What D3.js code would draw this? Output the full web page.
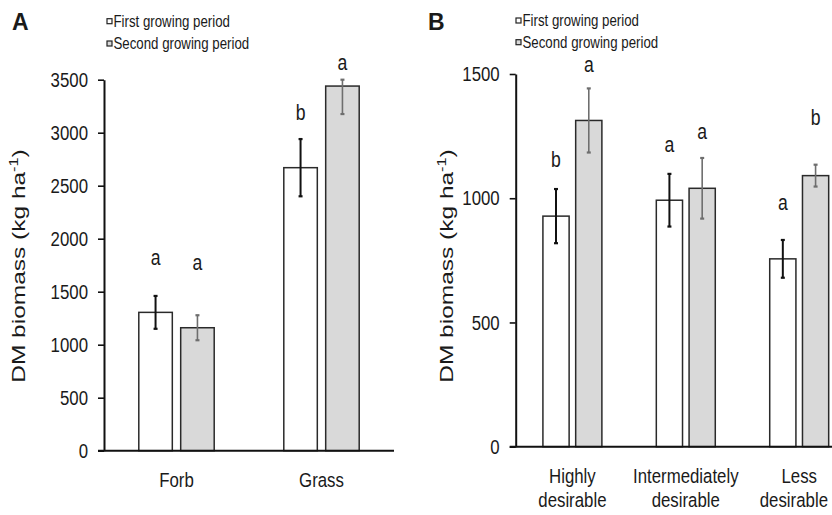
<!DOCTYPE html>
<html><head><meta charset="utf-8">
<script src="https://cdn.jsdelivr.net/npm/d3@7"></script>
<style>
body{margin:0;background:#fff}
svg{display:block}
text{font-family:'Liberation Sans',Arial,sans-serif;fill:#1a1a1a}
</style>
</head><body>
<svg id="c" width="832" height="515"></svg>
<script>
// ---------- data ----------
const seriesNames = ["First growing period", "Second growing period"];

// Panel A
const catsA = ["Forb", "Grass"];
const firstA = [1305, 2670];
const secondA = [1160, 3440];
const firstErrA = [155, 270];
const secondErrA = [118, 264];
const firstLetA = ["a", "b"];
const secondLetA = ["a", "a"];
const firstLetAtA = [1752, 3120];   // label baseline, data units
const secondLetAtA = [1705, 3592];
const ticksA = [0, 500, 1000, 1500, 2000, 2500, 3000, 3500];

// Panel B
const catsB = ["Highly desirable", "Intermediately desirable", "Less desirable"];
const catLinesB = [["Highly", "desirable"], ["Intermediately", "desirable"], ["Less", "desirable"]];
const firstB = [928, 992, 756];
const secondB = [1313, 1040, 1091];
const firstErrB = [109, 106, 76];
const secondErrB = [129, 122, 44];
const firstLetB = ["b", "a", "a"];
const secondLetB = ["a", "a", "b"];
const firstLetAtB = [1126, 1188, 953];
const secondLetAtB = [1508, 1237, 1294];
const ticksB = [0, 500, 1000, 1500];

// ---------- helpers ----------
const svg = d3.select("#c");
const W = 832;
const fills = ["#ffffff", "#d9d9d9"];
const errColors = ["#111111", "#6e6e6e"];
const errWidths = [2, 1.6];

function squeeze(sel, k) {
  sel.each(function () {
    const L = this.getComputedTextLength();
    this.setAttribute("textLength", (L * k).toFixed(2));
    this.setAttribute("lengthAdjust", "spacingAndGlyphs");
  });
}

function panel(o) {
  const g = svg.append("g");
  const x0 = d3.scaleBand().domain(o.cats).range(o.xRange).paddingInner(0).paddingOuter(0);
  const step = x0.step();
  const x1 = d3.scaleBand().domain(seriesNames)
    .range([step * 0.24, step * 0.76]).paddingInner(0.2).paddingOuter(0);
  const y = d3.scaleLinear().domain([0, o.yMax]).range(o.yRange);

  // y axis
  const ya = g.append("g").attr("transform", `translate(${o.xRange[0]},0)`)
    .call(d3.axisLeft(y).tickValues(o.ticks).tickFormat(d3.format("d"))
      .tickSize(6).tickPadding(10).tickSizeOuter(0));
  ya.select(".domain").attr("stroke", "#111").attr("stroke-width", 2);
  ya.selectAll(".tick line").attr("stroke", "#111").attr("stroke-width", 1.6);
  ya.selectAll(".tick text").attr("font-size", 20.5).attr("fill", "#1a1a1a")
    .attr("font-family", "'Liberation Sans',Arial,sans-serif").call(squeeze, 0.82);

  // bars
  const series = [
    { name: seriesNames[0], vals: o.first, errs: o.firstErr, lets: o.firstLet, letAt: o.firstLetAt },
    { name: seriesNames[1], vals: o.second, errs: o.secondErr, lets: o.secondLet, letAt: o.secondLetAt }
  ];
  series.forEach((s, si) => {
    const sg = g.append("g");
    o.cats.forEach((c, ci) => {
      const bx = x0(c) + x1(s.name);
      const bw = x1.bandwidth();
      const v = s.vals[ci];
      sg.append("rect").attr("x", bx).attr("y", y(v))
        .attr("width", bw).attr("height", y(0) - y(v))
        .attr("fill", fills[si]).attr("stroke", "#2a2a2a").attr("stroke-width", 1.5);
      const cx = bx + bw / 2;
      const hi = Math.min(v + s.errs[ci], o.yMax);
      const lo = v - s.errs[ci];
      sg.append("line").attr("x1", cx).attr("x2", cx).attr("y1", y(hi)).attr("y2", y(lo))
        .attr("stroke", errColors[si]).attr("stroke-width", errWidths[si]);
      [hi, lo].forEach(e => sg.append("line").attr("x1", cx - 2).attr("x2", cx + 2)
        .attr("y1", y(e)).attr("y2", y(e))
        .attr("stroke", errColors[si]).attr("stroke-width", 2.2));
      sg.append("text").attr("x", cx).attr("y", y(s.letAt[ci]))
        .attr("text-anchor", "middle").attr("font-size", 22).text(s.lets[ci]).call(squeeze, 0.8);
    });
  });

  // x axis
  g.append("line").attr("x1", o.xRange[0] - 6).attr("x2", o.xRange[1])
    .attr("y1", y(0)).attr("y2", y(0)).attr("stroke", "#111").attr("stroke-width", 2);
  o.cats.forEach((c, ci) => {
    const lines = o.catLines[ci];
    lines.forEach((ln, li) => {
      const t = g.append("text").attr("x", x0(c) + step / 2).attr("y", o.labelY[li])
        .attr("text-anchor", "middle").attr("font-size", 20.5).text(ln).call(squeeze, 0.82);
      const bb = t.node().getBBox();
      if (bb.x + bb.width > W - 4) t.attr("x", x0(c) + step / 2 - (bb.x + bb.width - (W - 4)));
    });
  });

  // y title
  const t = g.append("text").attr("text-anchor", "middle").attr("font-size", 18)
    .attr("transform", `translate(${o.titleX},266) rotate(-90)`);
  t.append("tspan").text("DM biomass (kg ha");
  t.append("tspan").attr("font-size", 12).attr("dy", -7).text("-1");
  t.append("tspan").attr("dy", 7).text(")");
  t.call(squeeze, 1.36);

  // legend
  seriesNames.forEach((n, i) => {
    g.append("rect").attr("x", o.legX).attr("y", o.legY[i] - 8).attr("width", 5).attr("height", 5)
      .attr("fill", fills[i]).attr("stroke", "#222").attr("stroke-width", 1.2);
    g.append("text").attr("x", o.legX + 6.5).attr("y", o.legY[i]).attr("font-size", 17)
      .text(n).call(squeeze, 0.78);
  });

  // panel letter
  g.append("text").attr("x", o.pl[0]).attr("y", o.pl[1]).attr("font-size", 23)
    .attr("font-weight", "bold").attr("fill", "#000").text(o.letter);
}

panel({
  cats: catsA, catLines: catsA.map(c => [c]), labelY: [487],
  first: firstA, second: secondA, firstErr: firstErrA, secondErr: secondErrA,
  firstLet: firstLetA, secondLet: secondLetA, firstLetAt: firstLetAtA, secondLetAt: secondLetAtA,
  ticks: ticksA, yMax: 3500, xRange: [104, 394], yRange: [450.7, 79.7],
  titleX: 25, legX: 107, legY: [26.7, 49], pl: [12, 30], letter: "A"
});

panel({
  cats: catsB, catLines: catLinesB, labelY: [483, 507],
  first: firstB, second: secondB, firstErr: firstErrB, secondErr: secondErrB,
  firstLet: firstLetB, secondLet: secondLetB, firstLetAt: firstLetAtB, secondLetAt: secondLetAtB,
  ticks: ticksB, yMax: 1500, xRange: [515.7, 855.9], yRange: [446.7, 74],
  titleX: 453, legX: 516, legY: [26, 47.7], pl: [428, 30], letter: "B"
});
</script>
</body></html>
